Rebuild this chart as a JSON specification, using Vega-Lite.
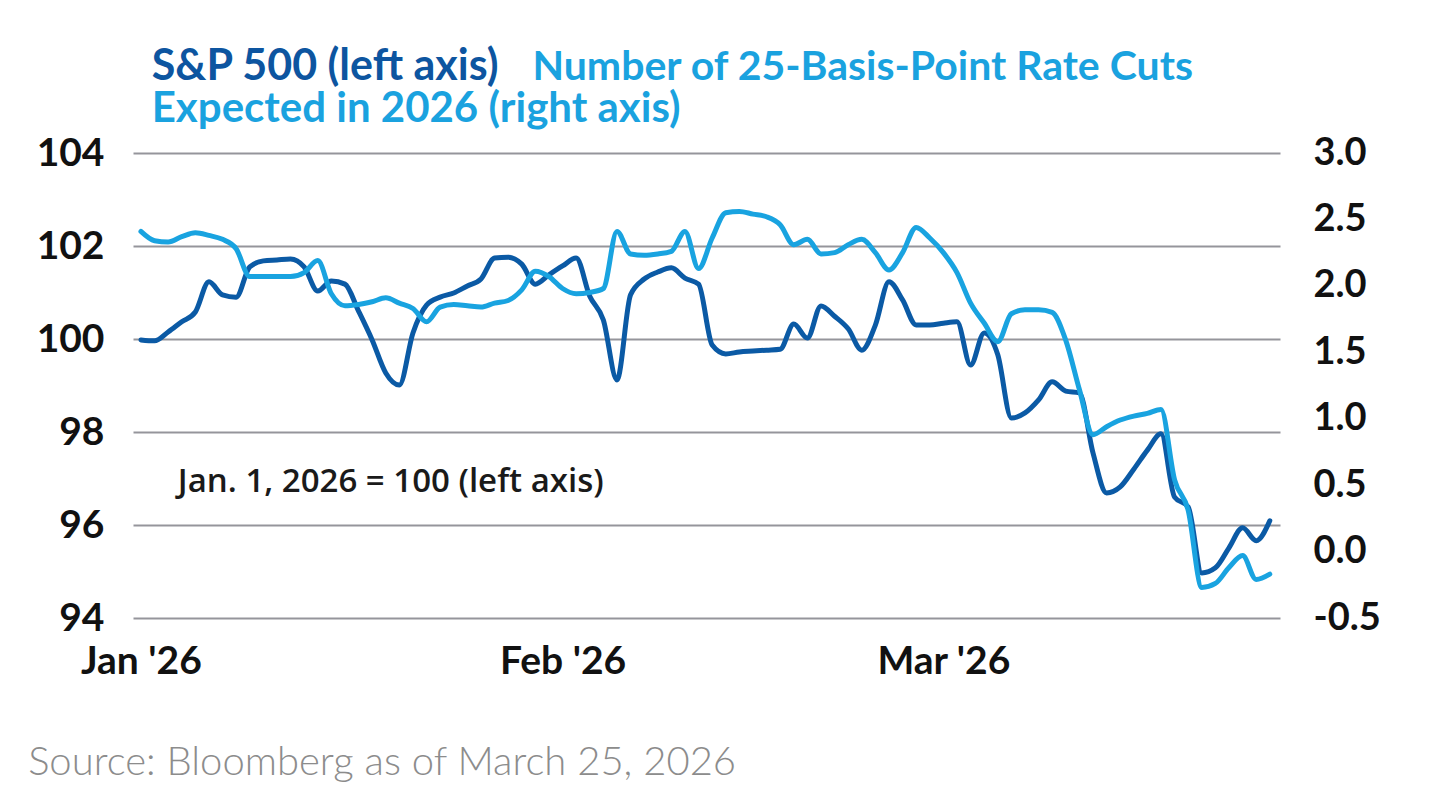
{
  "$schema": "https://vega.github.io/schema/vega-lite/v6.json",
  "width": 1147,
  "height": 465,
  "autosize": {"type": "none"},
  "padding": {"left": 133, "top": 153, "right": 160, "bottom": 186},
  "background": "white",
  "config": {"view": {"stroke": null}},
  "title": {
    "text": "Source: Bloomberg as of March 25, 2026",
    "orient": "bottom",
    "anchor": "start",
    "frame": "bounds",
    "offset": 62,
    "dx": -8,
    "font": "Lato",
    "fontSize": 40,
    "fontWeight": 300,
    "color": "#8c8c8c"
  },
  "data": {
    "format": {"parse": {"date": "date:'%Y-%m-%d'"}},
    "values": [
      {"date": "2026-01-01", "sp500": 99.98, "cuts": 2.41},
      {"date": "2026-01-02", "sp500": 99.96, "cuts": 2.34},
      {"date": "2026-01-03", "sp500": 100.15, "cuts": 2.33},
      {"date": "2026-01-04", "sp500": 100.37, "cuts": 2.37},
      {"date": "2026-01-05", "sp500": 100.58, "cuts": 2.40},
      {"date": "2026-01-06", "sp500": 101.23, "cuts": 2.38},
      {"date": "2026-01-07", "sp500": 100.95, "cuts": 2.35},
      {"date": "2026-01-08", "sp500": 100.90, "cuts": 2.28},
      {"date": "2026-01-09", "sp500": 101.55, "cuts": 2.07},
      {"date": "2026-01-10", "sp500": 101.68, "cuts": 2.07},
      {"date": "2026-01-11", "sp500": 101.70, "cuts": 2.07},
      {"date": "2026-01-12", "sp500": 101.72, "cuts": 2.07},
      {"date": "2026-01-13", "sp500": 101.55, "cuts": 2.10},
      {"date": "2026-01-14", "sp500": 101.03, "cuts": 2.19},
      {"date": "2026-01-15", "sp500": 101.25, "cuts": 1.94},
      {"date": "2026-01-16", "sp500": 101.18, "cuts": 1.85},
      {"date": "2026-01-17", "sp500": 100.60, "cuts": 1.86},
      {"date": "2026-01-18", "sp500": 99.98, "cuts": 1.88},
      {"date": "2026-01-19", "sp500": 99.27, "cuts": 1.91},
      {"date": "2026-01-20", "sp500": 99.01, "cuts": 1.87},
      {"date": "2026-01-21", "sp500": 100.13, "cuts": 1.83},
      {"date": "2026-01-22", "sp500": 100.73, "cuts": 1.73},
      {"date": "2026-01-23", "sp500": 100.90, "cuts": 1.84},
      {"date": "2026-01-24", "sp500": 100.99, "cuts": 1.86},
      {"date": "2026-01-25", "sp500": 101.14, "cuts": 1.85},
      {"date": "2026-01-26", "sp500": 101.29, "cuts": 1.84},
      {"date": "2026-01-27", "sp500": 101.74, "cuts": 1.87},
      {"date": "2026-01-28", "sp500": 101.76, "cuts": 1.89},
      {"date": "2026-01-29", "sp500": 101.61, "cuts": 1.97},
      {"date": "2026-01-30", "sp500": 101.18, "cuts": 2.11},
      {"date": "2026-01-31", "sp500": 101.38, "cuts": 2.07},
      {"date": "2026-02-01", "sp500": 101.57, "cuts": 1.98},
      {"date": "2026-02-02", "sp500": 101.74, "cuts": 1.94},
      {"date": "2026-02-03", "sp500": 100.92, "cuts": 1.95},
      {"date": "2026-02-04", "sp500": 100.41, "cuts": 1.98},
      {"date": "2026-02-05", "sp500": 99.12, "cuts": 2.41},
      {"date": "2026-02-06", "sp500": 100.95, "cuts": 2.24},
      {"date": "2026-02-07", "sp500": 101.29, "cuts": 2.23},
      {"date": "2026-02-08", "sp500": 101.44, "cuts": 2.24},
      {"date": "2026-02-09", "sp500": 101.53, "cuts": 2.26},
      {"date": "2026-02-10", "sp500": 101.31, "cuts": 2.41},
      {"date": "2026-02-11", "sp500": 101.18, "cuts": 2.13},
      {"date": "2026-02-12", "sp500": 99.87, "cuts": 2.36},
      {"date": "2026-02-13", "sp500": 99.68, "cuts": 2.55},
      {"date": "2026-02-14", "sp500": 99.72, "cuts": 2.56},
      {"date": "2026-02-15", "sp500": 99.74, "cuts": 2.54},
      {"date": "2026-02-16", "sp500": 99.76, "cuts": 2.52},
      {"date": "2026-02-17", "sp500": 99.78, "cuts": 2.46},
      {"date": "2026-02-18", "sp500": 100.32, "cuts": 2.31},
      {"date": "2026-02-19", "sp500": 100.02, "cuts": 2.35},
      {"date": "2026-02-20", "sp500": 100.71, "cuts": 2.24},
      {"date": "2026-02-21", "sp500": 100.49, "cuts": 2.25},
      {"date": "2026-02-22", "sp500": 100.22, "cuts": 2.31},
      {"date": "2026-02-23", "sp500": 99.76, "cuts": 2.35},
      {"date": "2026-02-24", "sp500": 100.30, "cuts": 2.25},
      {"date": "2026-02-25", "sp500": 101.23, "cuts": 2.12},
      {"date": "2026-02-26", "sp500": 100.84, "cuts": 2.25},
      {"date": "2026-02-27", "sp500": 100.30, "cuts": 2.44},
      {"date": "2026-02-28", "sp500": 100.30, "cuts": 2.36},
      {"date": "2026-03-01", "sp500": 100.34, "cuts": 2.25},
      {"date": "2026-03-02", "sp500": 100.37, "cuts": 2.10},
      {"date": "2026-03-03", "sp500": 99.44, "cuts": 1.87},
      {"date": "2026-03-04", "sp500": 100.13, "cuts": 1.72},
      {"date": "2026-03-05", "sp500": 99.66, "cuts": 1.58},
      {"date": "2026-03-06", "sp500": 98.30, "cuts": 1.79},
      {"date": "2026-03-07", "sp500": 98.41, "cuts": 1.82},
      {"date": "2026-03-08", "sp500": 98.69, "cuts": 1.82},
      {"date": "2026-03-09", "sp500": 99.08, "cuts": 1.80},
      {"date": "2026-03-10", "sp500": 98.88, "cuts": 1.59},
      {"date": "2026-03-11", "sp500": 98.84, "cuts": 1.22},
      {"date": "2026-03-12", "sp500": 97.55, "cuts": 0.88},
      {"date": "2026-03-13", "sp500": 96.69, "cuts": 0.94},
      {"date": "2026-03-14", "sp500": 96.82, "cuts": 0.99},
      {"date": "2026-03-15", "sp500": 97.20, "cuts": 1.02},
      {"date": "2026-03-16", "sp500": 97.61, "cuts": 1.04},
      {"date": "2026-03-17", "sp500": 97.96, "cuts": 1.07},
      {"date": "2026-03-18", "sp500": 96.60, "cuts": 0.54},
      {"date": "2026-03-19", "sp500": 96.39, "cuts": 0.31},
      {"date": "2026-03-20", "sp500": 94.97, "cuts": -0.27},
      {"date": "2026-03-21", "sp500": 95.08, "cuts": -0.24},
      {"date": "2026-03-22", "sp500": 95.51, "cuts": -0.12},
      {"date": "2026-03-23", "sp500": 95.94, "cuts": -0.03},
      {"date": "2026-03-24", "sp500": 95.66, "cuts": -0.21},
      {"date": "2026-03-25", "sp500": 96.09, "cuts": -0.17}
    ]
  },
  "encoding": {
    "x": {
      "field": "date",
      "type": "temporal",
      "title": null,
      "scale": {
        "domain": [
          {"year": 2025, "month": 12, "date": 31, "hours": 10},
          {"year": 2026, "month": 3, "date": 25, "hours": 18}
        ]
      },
      "axis": {
        "values": [
          {"year": 2026, "month": 1, "date": 1},
          {"year": 2026, "month": 2, "date": 1},
          {"year": 2026, "month": 3, "date": 1}
        ],
        "format": "%b '%y",
        "grid": false,
        "ticks": false,
        "domain": false,
        "labelFont": "Lato",
        "labelFontSize": 39,
        "labelFontWeight": "bold",
        "labelColor": "#111111",
        "labelPadding": 24,
        "labelFlush": false,
        "labelOverlap": false
      }
    }
  },
  "layer": [
    {
      "mark": {"type": "line", "interpolate": "monotone", "strokeWidth": 5, "color": "#0b5aa5", "strokeCap": "round", "strokeJoin": "round"},
      "encoding": {
        "y": {
          "field": "sp500",
          "type": "quantitative",
          "title": null,
          "scale": {"domain": [94, 104], "nice": false, "zero": false},
          "axis": {
            "orient": "left",
            "values": [94, 96, 98, 100, 102, 104],
            "grid": true,
            "gridColor": "#95959b",
            "gridWidth": 2,
            "domain": false,
            "ticks": false,
            "labelFont": "Lato",
            "labelFontSize": 39,
            "labelFontWeight": "bold",
            "labelColor": "#111111",
            "labelPadding": 29
          }
        }
      }
    },
    {
      "mark": {"type": "line", "interpolate": "monotone", "strokeWidth": 5, "color": "#19a3e0", "strokeCap": "round", "strokeJoin": "round"},
      "encoding": {
        "y": {
          "field": "cuts",
          "type": "quantitative",
          "title": null,
          "scale": {"domain": [-0.5, 3.0], "nice": false, "zero": false},
          "axis": {
            "orient": "right",
            "values": [-0.5, 0, 0.5, 1, 1.5, 2, 2.5, 3],
            "labelExpr": "datum.value < 0 ? '-' + format(-datum.value, '.1f') : format(datum.value, '.1f')",
            "grid": false,
            "domain": false,
            "ticks": false,
            "labelFont": "Lato",
            "labelFontSize": 38,
            "labelFontWeight": "bold",
            "labelColor": "#111111",
            "labelPadding": 33
          }
        }
      }
    },
    {
      "transform": [{"window": [{"op": "row_number", "as": "rank"}]}, {"filter": "datum.rank == 1"}],
      "mark": {"type": "text", "text": "S&P 500 (left axis)", "align": "left", "baseline": "alphabetic", "font": "Lato", "fontSize": 43, "fontWeight": "bold", "color": "#0d55a0"},
      "encoding": {
        "x": {"datum": {"year": 2026, "month": 1, "date": 1, "hours": 19}, "type": "temporal"},
        "y": {"datum": 105.57, "type": "quantitative", "scale": {"domain": [94, 104], "nice": false, "zero": false}, "axis": null}
      }
    },
    {
      "transform": [{"window": [{"op": "row_number", "as": "rank"}]}, {"filter": "datum.rank == 1"}],
      "mark": {"type": "text", "text": "Number of 25-Basis-Point Rate Cuts", "align": "left", "baseline": "alphabetic", "font": "Lato", "fontSize": 41, "fontWeight": "bold", "color": "#1aa2df"},
      "encoding": {
        "x": {"datum": {"year": 2026, "month": 1, "date": 29, "hours": 19}, "type": "temporal"},
        "y": {"datum": 105.57, "type": "quantitative", "scale": {"domain": [94, 104], "nice": false, "zero": false}, "axis": null}
      }
    },
    {
      "transform": [{"window": [{"op": "row_number", "as": "rank"}]}, {"filter": "datum.rank == 1"}],
      "mark": {"type": "text", "text": "Expected in 2026 (right axis)", "align": "left", "baseline": "alphabetic", "font": "Lato", "fontSize": 42, "fontWeight": "bold", "color": "#1aa2df"},
      "encoding": {
        "x": {"datum": {"year": 2026, "month": 1, "date": 1, "hours": 19}, "type": "temporal"},
        "y": {"datum": 104.67, "type": "quantitative", "scale": {"domain": [94, 104], "nice": false, "zero": false}, "axis": null}
      }
    },
    {
      "transform": [{"window": [{"op": "row_number", "as": "rank"}]}, {"filter": "datum.rank == 1"}],
      "mark": {"type": "text", "text": "Jan. 1, 2026 = 100 (left axis)", "align": "left", "baseline": "alphabetic", "font": "Open Sans", "fontSize": 33, "fontWeight": 600, "color": "#1a1a1a"},
      "encoding": {
        "x": {"datum": {"year": 2026, "month": 1, "date": 3, "hours": 17}, "type": "temporal"},
        "y": {"datum": 96.72, "type": "quantitative", "scale": {"domain": [94, 104], "nice": false, "zero": false}, "axis": null}
      }
    }
  ],
  "resolve": {"scale": {"y": "independent"}, "axis": {"y": "independent"}}
}
